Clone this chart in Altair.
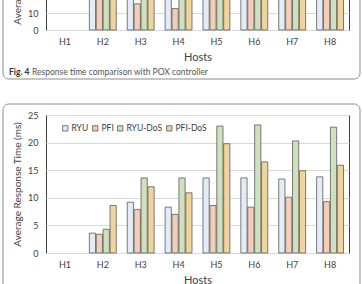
import altair as alt
import pandas as pd

# ---------------- data ----------------
hosts = ["H1", "H2", "H3", "H4", "H5", "H6", "H7", "H8"]
series = ["RYU", "PFI", "RYU-DoS", "PFI-DoS"]
colors = ["#e3ecf6", "#f4cdb6", "#cfe0bf", "#efd59c"]

# Fig. 5 (RYU controller) - fully visible
ryu = [None, 3.6, 9.2, 8.3, 13.6, 13.6, 13.4, 13.8]
pfi = [None, 3.4, 7.9, 7.0, 8.6, 8.3, 10.1, 9.3]
ryu_dos = [None, 4.3, 13.6, 13.6, 23.0, 23.2, 20.3, 22.8]
pfi_dos = [None, 8.6, 12.0, 10.9, 19.8, 16.5, 14.9, 15.9]

# Fig. 4 (POX controller) - only the lowest part is visible; hidden tops estimated
pox = [None, 24, 26, 25, 31, 32, 31, 32]
pox_pfi = [None, 21, 15.4, 12.6, 23, 22, 24, 23]
pox_dos = [None, 26, 29, 28, 37, 38, 36, 37]
pox_pfi_dos = [None, 25, 27, 26, 34, 33, 32, 33]

caption_bold = "Fig. 4"
caption_text = "Response time comparison with POX controller"

FONT = "Lato"
TXT = "#404040"


def long_df(cols):
    rows = []
    for s, vals in zip(series, cols):
        for h, v in zip(hosts, vals):
            rows.append({"host": h, "series": s, "value": v})
    return pd.DataFrame(rows)


df_bottom = long_df([ryu, pfi, ryu_dos, pfi_dos])
df_top = long_df([pox, pox_pfi, pox_dos, pox_pfi_dos])
one = pd.DataFrame({"k": [0]})

W = 303


def bars(df, ymax, ystep, height, legend):
    return alt.Chart(df).mark_bar(stroke="#5a5a5a", strokeWidth=0.8).encode(
        x=alt.X("host:N", sort=hosts, scale=alt.Scale(domain=hosts, paddingInner=0.29, paddingOuter=0.145),
                axis=alt.Axis(title="Hosts", labelAngle=0, labelPadding=7, titlePadding=5)),
        xOffset=alt.XOffset("series:N", sort=series, scale=alt.Scale(domain=series, paddingInner=0.1)),
        y=alt.Y("value:Q", scale=alt.Scale(domain=[0, ymax], nice=False),
                axis=alt.Axis(title="Average Response Time (ms)", values=list(range(0, ymax + 1, ystep)),
                              labelPadding=8, titlePadding=5)),
        color=alt.Color("series:N", sort=series, scale=alt.Scale(domain=series, range=colors), legend=legend),
    ).properties(width=W, height=height)


def frame(y_top, y_bottom):
    return alt.Chart(one).mark_rect(fillOpacity=0, stroke="#8c8c8c", strokeWidth=1, cornerRadius=6).encode(
        x=alt.value(-43), x2=alt.value(314), y=alt.value(y_top), y2=alt.value(y_bottom)
    )


TOP_H = 136
top_bars = bars(df_top, 80, 10, TOP_H, None)
cap1 = alt.Chart(one).mark_text(align="left", baseline="middle", font=FONT, fontSize=8.5,
                                fontWeight="bold", color="#333333").encode(
    x=alt.value(-37), y=alt.value(TOP_H + 42), text=alt.value(caption_bold))
cap2 = alt.Chart(one).mark_text(align="left", baseline="middle", font=FONT, fontSize=8.5,
                                color="#555555").encode(
    x=alt.value(-14), y=alt.value(TOP_H + 42), text=alt.value(caption_text))
top = alt.layer(top_bars, frame(-15, TOP_H + 49), cap1, cap2)

legend = alt.Legend(orient="none", legendX=15, legendY=9, direction="horizontal", title=None,
                    symbolType="square", symbolSize=28, symbolStrokeColor="#555555",
                    symbolStrokeWidth=0.8, labelFont=FONT, labelFontSize=8.5, labelColor=TXT,
                    columnPadding=2, labelOffset=2)
BOT_H = 138
bottom = alt.layer(bars(df_bottom, 25, 5, BOT_H, legend), frame(-11, 185))

chart = alt.vconcat(top, bottom, spacing=23).resolve_scale(color="independent").properties(
    padding={"left": 2, "top": -122, "right": 1, "bottom": -17}
).configure_view(stroke="#404040", strokeWidth=1).configure_axis(
    labelFont=FONT, labelFontSize=9, labelColor=TXT, titleFont=FONT, titleFontSize=10,
    titleFontWeight="normal", titleColor=TXT, domain=False, ticks=False, gridColor="#d9d9d9",
).configure_axisX(titleFontSize=11, grid=False)

chart.save("out.html", embed_options={"renderer": "svg", "actions": False})
